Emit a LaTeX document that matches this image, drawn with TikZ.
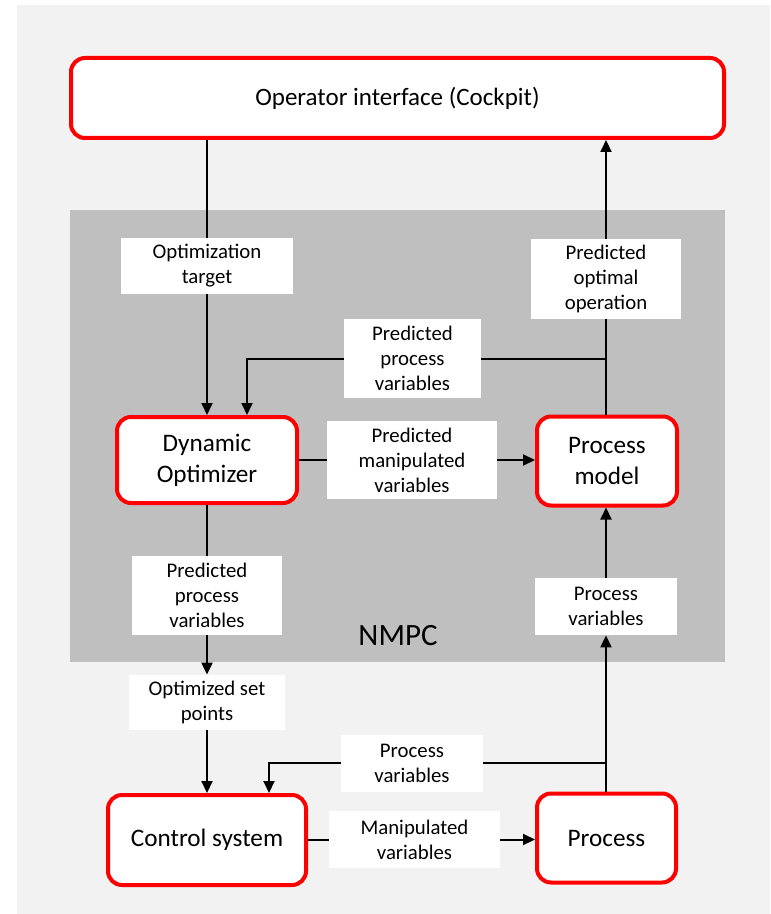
\documentclass[tikz,border=0pt]{standalone}
\usepackage{fontspec}
\setmainfont{Carlito}
\usetikzlibrary{arrows.meta, positioning}
\definecolor{pagegray}{HTML}{F2F2F2}
\definecolor{nmpcgray}{HTML}{BFBFBF}

\begin{document}
\begin{tikzpicture}[x=0.5pt, y=-0.5pt, >={Triangle[length=6pt, width=5.5pt]},
    block/.style={draw=red, line width=2pt, fill=white, rounded corners=7pt, align=center, inner sep=0pt, font=\fontsize{12.6}{15.5}\selectfont},
    lbl/.style={fill=white, align=center, inner sep=0pt, font=\fontsize{10.4}{12.5}\selectfont},
    flow/.style={line width=1pt}]

    \useasboundingbox (0,0) rectangle (770,914);
    \fill[pagegray] (17,5) rectangle (770,914);
    \fill[nmpcgray] (70,210) rectangle (725,662);
    \node[font=\fontsize{15.5}{18}\selectfont] (nmpc) at (398,636) {NMPC};

    % main blocks
    \node[block, minimum width=326.5pt, minimum height=40pt, font=\fontsize{12.5}{15}\selectfont] (op) at (397.5,98) {Operator interface (Cockpit)};
    \node[block, minimum width=90pt, minimum height=43pt] (dyn) at (207,460) {Dynamic\\Optimizer};
    \node[block, minimum width=70pt, minimum height=44.5pt] (pm) at (607,461) {Process\\model};
    \node[block, minimum width=99pt, minimum height=45pt] (ctrl) at (207,840) {Control system};
    \node[block, minimum width=69.5pt, minimum height=44.5pt] (proc) at (606.5,838) {Process};

    % labels on the connectors
    \node[lbl, minimum width=86pt, minimum height=28pt] (ot) at (207,266) {Optimization\\target};
    \node[lbl, minimum width=75pt, minimum height=40pt] (poo) at (606,279) {Predicted\\optimal\\operation};
    \node[lbl, minimum width=68.5pt, minimum height=39.5pt] (ppvtop) at (412.5,358.5) {Predicted\\process\\variables};
    \node[lbl, minimum width=85pt, minimum height=39pt] (pmv) at (412,460) {Predicted\\manipulated\\variables};
    \node[lbl, minimum width=75pt, minimum height=39.5pt] (ppvlow) at (207,595.5) {Predicted\\process\\variables};
    \node[lbl, minimum width=78pt, minimum height=27.5pt] (osp) at (207,702.5) {Optimized set\\points};
    \node[lbl, minimum width=71pt, minimum height=28.5pt] (pvmid) at (606,606.5) {Process\\variables};
    \node[lbl, minimum width=71pt, minimum height=28.5pt] (pvlow) at (412,763) {Process\\variables};
    \node[lbl, minimum width=85.5pt, minimum height=28.5pt] (mv) at (414.5,839.5) {Manipulated\\variables};

    \coordinate (dynin) at ([xshift=20pt]dyn.north);
    \coordinate (ctrlin) at ([xshift=31pt]ctrl.north);

    % connectors
    \draw[flow] (op.south -| ot.north) -- (ot.north);
    \draw[flow, ->] (ot.south) -- (ot.south |- dyn.north);
    \draw[flow] (pm.north -| poo.south) -- (poo.south);
    \draw[flow, ->] (poo.north) -- (poo.north |- op.south);
    \draw[flow, ->] (ppvtop.west) -| (dynin);
    \draw[flow] (ppvtop.east) -- (ppvtop.east -| poo.south);
    \draw[flow] (dyn.east |- pmv.west) -- (pmv.west);
    \draw[flow, ->] (pmv.east) -- (pmv.east -| pm.west);
    \draw[flow] (dyn.south) -- (ppvlow.north);
    \draw[flow, ->] (ppvlow.south) -- (osp.north);
    \draw[flow, ->] (osp.south) -- (osp.south |- ctrl.north);
    \draw[flow, ->] (proc.north -| pvmid.south) -- (pvmid.south);
    \draw[flow, ->] (pvmid.north) -- (pvmid.north |- pm.south);
    \draw[flow, ->] (pvlow.west) -| (ctrlin);
    \draw[flow] (pvlow.east) -- (pvlow.east -| pvmid.south);
    \draw[flow] (ctrl.east |- mv.west) -- (mv.west);
    \draw[flow, ->] (mv.east) -- (mv.east -| proc.west);

\end{tikzpicture}
\end{document}
